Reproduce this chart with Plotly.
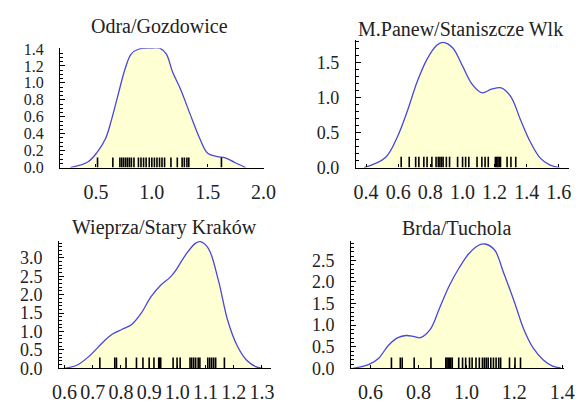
import plotly.graph_objects as go

# ---- Density estimates (curve samples) and observations (rug) per station ----
titles = ["Odra/Gozdowice", "M.Panew/Staniszcze Wlk",
          "Wieprza/Stary Kraków", "Brda/Tuchola"]

odra_x = [0.27, 0.43, 0.51, 0.585, 0.64, 0.70, 0.757, 0.815, 0.885, 1.0, 1.07,
          1.13, 1.185, 1.257, 1.34, 1.43, 1.50, 1.585, 1.657, 1.743, 1.84]
odra_y = [0.0, 0.07, 0.18, 0.34, 0.57, 0.87, 1.15, 1.34, 1.40, 1.41, 1.41,
          1.34, 1.13, 0.925, 0.64, 0.34, 0.17, 0.13, 0.116, 0.06, 0.0]
odra_rug = [0.514, 0.651, 0.714, 0.731, 0.748, 0.766, 0.783, 0.80, 0.817, 0.84,
            0.88, 0.903, 0.926, 0.949, 0.977, 1.0, 1.023, 1.046, 1.069, 1.091,
            1.114, 1.171, 1.228, 1.271, 1.291, 1.314, 1.331, 1.623]

panew_x = [0.388, 0.519, 0.599, 0.659, 0.719, 0.780, 0.840, 0.880, 0.940, 1.001,
           1.061, 1.121, 1.181, 1.242, 1.302, 1.362, 1.422, 1.483, 1.543, 1.603]
panew_y = [0.0, 0.14, 0.46, 0.82, 1.23, 1.55, 1.75, 1.79, 1.71, 1.45,
           1.19, 1.07, 1.12, 1.14, 1.01, 0.68, 0.37, 0.14, 0.04, 0.0]
panew_rug = [0.619, 0.669, 0.709, 0.729, 0.760, 0.780, 0.810, 0.836, 0.850,
             0.860, 0.870, 0.880, 0.900, 0.920, 0.970, 1.001, 1.020, 1.040,
             1.091, 1.121, 1.141, 1.161, 1.205, 1.213, 1.221, 1.229, 1.237,
             1.278, 1.302, 1.332]

wieprza_x = [0.60, 0.645, 0.69, 0.736, 0.77, 0.804, 0.838, 0.872, 0.906, 0.94,
             0.974, 0.997, 1.03, 1.065, 1.082, 1.11, 1.146, 1.178, 1.212,
             1.246, 1.28, 1.303]
wieprza_y = [0.0, 0.09, 0.35, 0.71, 0.93, 1.06, 1.19, 1.50, 1.94, 2.25,
             2.47, 2.69, 3.09, 3.40, 3.44, 3.26, 2.38, 1.32, 0.62,
             0.22, 0.04, 0.0]
wieprza_rug = [0.725, 0.778, 0.784, 0.818, 0.855, 0.878, 0.90, 0.917, 0.934,
               0.937, 0.941, 0.985, 0.999, 1.01, 1.045, 1.051, 1.058, 1.065,
               1.074, 1.08, 1.108, 1.115, 1.122, 1.129, 1.136, 1.167]

brda_x = [0.526, 0.593, 0.634, 0.674, 0.714, 0.748, 0.782, 0.808, 0.849, 0.889,
          0.93, 0.970, 1.011, 1.051, 1.078, 1.118, 1.155, 1.199, 1.24, 1.28,
          1.32, 1.36, 1.394]
brda_y = [0.0, 0.09, 0.235, 0.53, 0.71, 0.76, 0.735, 0.71, 0.90, 1.41,
          1.93, 2.33, 2.66, 2.85, 2.88, 2.74, 2.22, 1.56, 0.90, 0.46,
          0.20, 0.05, 0.01]
brda_rug = [0.687, 0.724, 0.732, 0.782, 0.852, 0.914, 0.919, 0.924, 0.930,
            0.935, 0.941, 0.968, 0.984, 0.997, 1.013, 1.024, 1.04, 1.054,
            1.067, 1.075, 1.083, 1.091, 1.102, 1.113, 1.124, 1.135, 1.143,
            1.18, 1.203, 1.226]

curves_x = [odra_x, panew_x, wieprza_x, brda_x]
curves_y = [odra_y, panew_y, wieprza_y, brda_y]
rugs = [odra_rug, panew_rug, wieprza_rug, brda_rug]

# axis ranges and tick spacing for each panel
x_ranges = [[0.18, 2.005], [0.338, 1.663], [0.581, 1.333], [0.519, 1.408]]
y_ranges = [[0, 1.41], [0, 1.83], [0, 3.47], [0, 2.96]]
x_dticks = [0.5, 0.2, 0.1, 0.2]
y_dticks = [0.2, 0.5, 0.5, 0.5]
y_minor = [0.05, 0.1, 0.1, 0.1]

# ---- layout geometry (pixels) ----
W, H = 588, 407
boxes = [  # left, right, bottom, top
    (55, 265.7, 167, 42),
    (360.7, 580.7, 167, 33),
    (54, 273, 377, 243.3),
    (355.7, 575.7, 377, 243.3),
]
title_pos = [(158, 19), (469, 22), (163, 230), (464, 230)]

FONT = "Liberation Serif, Times New Roman, serif"
LINE_BLUE = "rgb(72,72,215)"
FILL_YELLOW = "rgb(255,255,212)"

fig = go.Figure()
layout = dict(
    width=W, height=H,
    margin=dict(l=0, r=0, t=0, b=0),
    paper_bgcolor="white", plot_bgcolor="rgba(0,0,0,0)",
    showlegend=False,
    annotations=[],
)

for i in range(4):
    xa = "x" if i == 0 else f"x{i + 1}"
    ya = "y" if i == 0 else f"y{i + 1}"
    xkey = "xaxis" if i == 0 else f"xaxis{i + 1}"
    ykey = "yaxis" if i == 0 else f"yaxis{i + 1}"
    l, r, b, t = boxes[i]

    fig.add_trace(go.Scatter(
        x=curves_x[i], y=curves_y[i], mode="lines",
        line=dict(color=LINE_BLUE, width=1.3, shape="spline", smoothing=1.0),
        fill="tozeroy", fillcolor=FILL_YELLOW,
        xaxis=xa, yaxis=ya, hoverinfo="skip",
    ))

    # rug: short vertical strokes rising from the baseline
    h = 0.085 * y_ranges[i][1]
    rx, ry = [], []
    for v in rugs[i]:
        rx += [v, v, None]
        ry += [0, h, None]
    fig.add_trace(go.Scatter(
        x=rx, y=ry, mode="lines",
        line=dict(color="black", width=1.6),
        xaxis=xa, yaxis=ya, hoverinfo="skip",
    ))

    tickfont_x = dict(family=FONT, size=20, color="#222")
    tickfont_y = dict(family=FONT, size=16 if i == 0 else 18, color="#222")
    layout[xkey] = dict(
        domain=[l / W, r / W], anchor=ya, range=x_ranges[i],
        showline=True, linecolor="black", linewidth=1.3,
        ticks="inside", ticklen=3, tickcolor="black", tickwidth=1,
        dtick=x_dticks[i], tick0=0, tickformat=".1f",
        showgrid=False, zeroline=False, tickfont=tickfont_x,
        ticklabelstandoff=6,
    )
    layout[ykey] = dict(
        domain=[1 - b / H, 1 - t / H], anchor=xa, range=y_ranges[i],
        showline=True, linecolor="black", linewidth=1.3,
        ticks="inside", ticklen=5, tickcolor="black", tickwidth=1,
        minor=dict(ticks="inside", ticklen=2.5, dtick=y_minor[i],
                   tickcolor="black"),
        dtick=y_dticks[i], tick0=0, tickformat=".1f",
        showgrid=False, zeroline=False, tickfont=tickfont_y,
        ticklabelstandoff=12,
    )
    tx, ty = title_pos[i]
    layout["annotations"].append(dict(
        text=titles[i], x=tx / W, y=1 - ty / H, xref="paper", yref="paper",
        xanchor="center", yanchor="middle", showarrow=False,
        font=dict(family=FONT, size=20, color="#222"),
    ))

fig.update_layout(**layout)
fig.write_html("out.html")
